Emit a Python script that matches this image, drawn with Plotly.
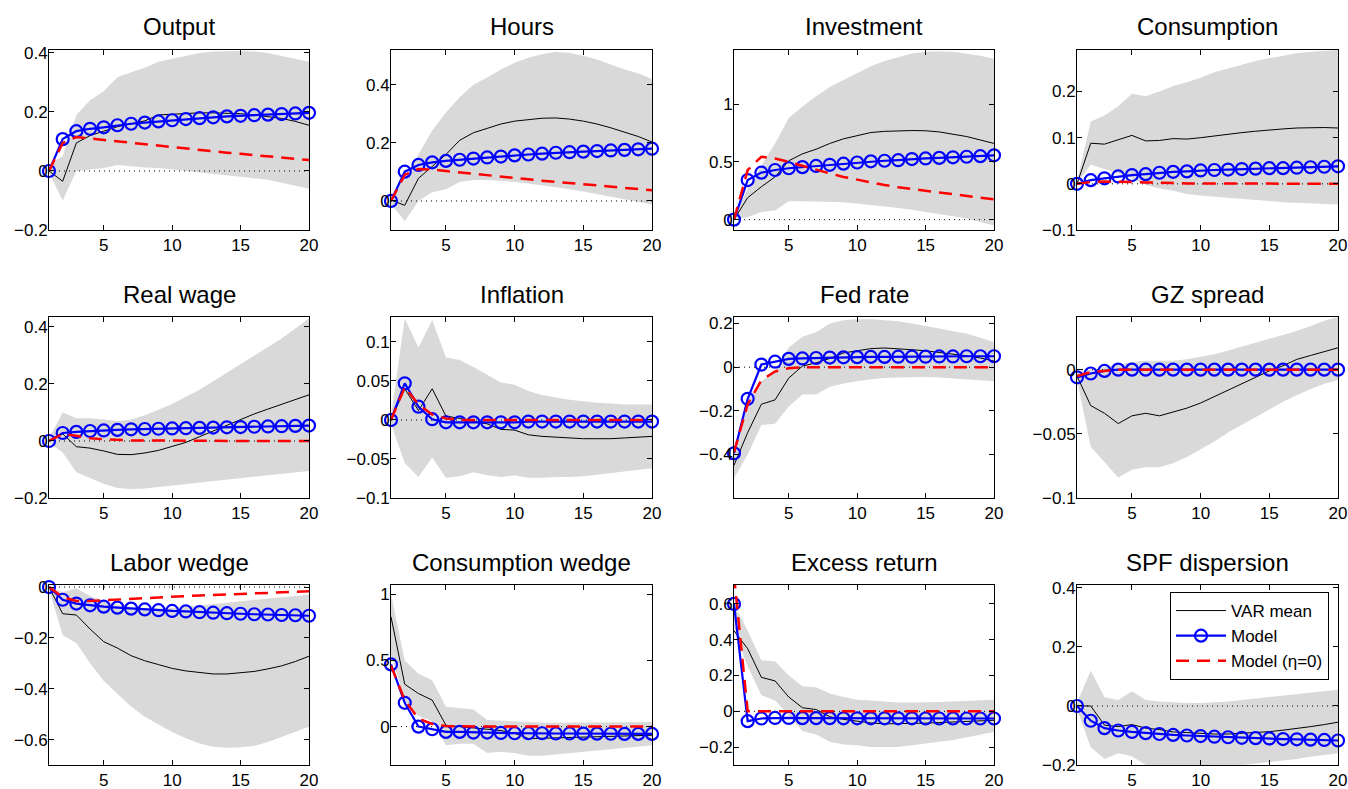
import plotly.graph_objects as go

PERIODS = list(range(1, 21))
TITLES = ["Output", "Hours", "Investment", "Consumption",
          "Real wage", "Inflation", "Fed rate", "GZ spread",
          "Labor wedge", "Consumption wedge", "Excess return", "SPF dispersion"]

# ---------------- data ----------------
OUTPUT_VAR = [0, -0.035, 0.095, 0.12, 0.135, 0.15, 0.16, 0.17, 0.19, 0.193, 0.195, 0.197, 0.197, 0.196, 0.194, 0.19, 0.185, 0.178, 0.168, 0.155]
OUTPUT_HI = [0.02, 0.05, 0.19, 0.24, 0.27, 0.318, 0.335, 0.35, 0.37, 0.38, 0.39, 0.4, 0.405, 0.407, 0.407, 0.405, 0.4, 0.39, 0.38, 0.37]
OUTPUT_LO = [-0.005, -0.1, 0.0, 0.005, 0.01, 0.02, 0.015, 0.012, 0.01, 0.005, 0.0, -0.005, -0.01, -0.015, -0.02, -0.025, -0.03, -0.04, -0.05, -0.06]
OUTPUT_MODEL = [0, 0.108, 0.135, 0.143, 0.148, 0.155, 0.16, 0.164, 0.168, 0.172, 0.176, 0.179, 0.182, 0.185, 0.187, 0.189, 0.191, 0.193, 0.195, 0.197]
OUTPUT_ETA0 = [0, 0.095, 0.115, 0.11, 0.105, 0.1, 0.095, 0.09, 0.085, 0.08, 0.075, 0.07, 0.066, 0.062, 0.058, 0.054, 0.05, 0.046, 0.042, 0.037]

HOURS_VAR = [0.003, -0.015, 0.078, 0.12, 0.16, 0.209, 0.235, 0.25, 0.265, 0.275, 0.28, 0.285, 0.286, 0.282, 0.275, 0.265, 0.252, 0.238, 0.222, 0.203]
HOURS_HI = [0.02, 0.08, 0.16, 0.243, 0.305, 0.357, 0.4, 0.425, 0.453, 0.476, 0.493, 0.505, 0.514, 0.51, 0.5, 0.487, 0.47, 0.453, 0.44, 0.42]
HOURS_LO = [-0.01, -0.07, 0.0, 0.03, 0.04, 0.065, 0.072, 0.072, 0.07, 0.065, 0.06, 0.053, 0.047, 0.04, 0.033, 0.025, 0.017, 0.008, -0.003, -0.012]
HOURS_MODEL = [0, 0.101, 0.124, 0.133, 0.138, 0.142, 0.146, 0.15, 0.153, 0.157, 0.16, 0.163, 0.166, 0.168, 0.17, 0.172, 0.174, 0.176, 0.178, 0.18]
HOURS_ETA0 = [0, 0.09, 0.11, 0.108, 0.103, 0.098, 0.093, 0.088, 0.083, 0.079, 0.074, 0.07, 0.066, 0.062, 0.058, 0.054, 0.05, 0.046, 0.042, 0.037]

INVEST_VAR = [0, 0.19, 0.285, 0.37, 0.51, 0.57, 0.61, 0.66, 0.7, 0.73, 0.755, 0.765, 0.77, 0.772, 0.77, 0.76, 0.74, 0.72, 0.69, 0.66]
INVEST_HI = [0.02, 0.27, 0.47, 0.66, 0.88, 0.98, 1.07, 1.15, 1.21, 1.27, 1.33, 1.375, 1.41, 1.44, 1.455, 1.46, 1.455, 1.44, 1.42, 1.395]
INVEST_LO = [0, 0.02, 0.067, 0.08, 0.16, 0.16, 0.155, 0.155, 0.15, 0.14, 0.13, 0.115, 0.1, 0.085, 0.07, 0.05, 0.03, 0.01, -0.02, -0.05]
INVEST_MODEL = [0, 0.343, 0.407, 0.43, 0.445, 0.455, 0.465, 0.475, 0.485, 0.495, 0.505, 0.51, 0.515, 0.525, 0.53, 0.535, 0.54, 0.545, 0.55, 0.557]
INVEST_ETA0 = [0, 0.43, 0.545, 0.53, 0.5, 0.465, 0.43, 0.4, 0.37, 0.345, 0.32, 0.3, 0.28, 0.265, 0.245, 0.23, 0.215, 0.2, 0.19, 0.175]

CONS_VAR = [0, 0.088, 0.086, 0.095, 0.105, 0.093, 0.094, 0.098, 0.097, 0.1, 0.104, 0.107, 0.111, 0.114, 0.117, 0.119, 0.121, 0.122, 0.122, 0.121]
CONS_HI = [0.005, 0.135, 0.148, 0.168, 0.195, 0.19, 0.2, 0.212, 0.22, 0.23, 0.242, 0.25, 0.258, 0.266, 0.272, 0.278, 0.283, 0.286, 0.288, 0.29]
CONS_LO = [0, 0.042, 0.032, 0.022, 0.012, -0.002, -0.01, -0.015, -0.022, -0.025, -0.028, -0.03, -0.033, -0.035, -0.037, -0.04, -0.042, -0.043, -0.044, -0.045]
CONS_MODEL = [0, 0.008, 0.012, 0.016, 0.019, 0.021, 0.024, 0.026, 0.027, 0.029, 0.03, 0.031, 0.032, 0.033, 0.034, 0.034, 0.035, 0.036, 0.037, 0.038]
CONS_ETA0 = [0, 0.004, 0.005, 0.005, 0.004, 0.003, 0.002, 0.001, 0.001, 0.001, 0.001, 0.001, 0.001, 0.0, 0.0, 0.0, 0.0, 0.0, 0.0, 0.0]

WAGE_VAR = [0, 0.025, -0.02, -0.025, -0.035, -0.047, -0.048, -0.042, -0.033, -0.02, -0.005, 0.015, 0.035, 0.055, 0.075, 0.095, 0.112, 0.128, 0.145, 0.162]
WAGE_HI = [0.01, 0.1, 0.08, 0.08, 0.075, 0.07, 0.075, 0.09, 0.11, 0.13, 0.155, 0.18, 0.21, 0.24, 0.27, 0.3, 0.33, 0.36, 0.395, 0.43]
WAGE_LO = [-0.005, -0.04, -0.11, -0.13, -0.15, -0.165, -0.168, -0.167, -0.162, -0.155, -0.15, -0.145, -0.14, -0.135, -0.13, -0.125, -0.12, -0.115, -0.11, -0.105]
WAGE_MODEL = [0, 0.028, 0.032, 0.035, 0.037, 0.039, 0.041, 0.042, 0.043, 0.044, 0.045, 0.046, 0.047, 0.048, 0.049, 0.05, 0.051, 0.052, 0.053, 0.054]
WAGE_ETA0 = [0, 0.025, 0.018, 0.01, 0.006, 0.003, 0.002, 0.002, 0.001, 0.001, 0.001, 0.001, 0.0, 0.0, 0.0, 0.0, 0.0, 0.0, 0.0, 0.0]

INFL_VAR = [0, 0.04, 0.012, 0.04, 0.005, 0.002, -0.002, -0.005, -0.012, -0.013, -0.019, -0.021, -0.022, -0.023, -0.024, -0.024, -0.024, -0.023, -0.022, -0.021]
INFL_HI = [0.005, 0.13, 0.093, 0.128, 0.08, 0.077, 0.068, 0.058, 0.048, 0.045, 0.037, 0.032, 0.029, 0.026, 0.024, 0.022, 0.021, 0.02, 0.02, 0.02]
INFL_LO = [-0.005, -0.055, -0.073, -0.048, -0.074, -0.072, -0.067, -0.071, -0.073, -0.071, -0.074, -0.074, -0.073, -0.073, -0.072, -0.07, -0.068, -0.066, -0.064, -0.062]
INFL_MODEL = [0, 0.047, 0.017, 0.001, -0.003, -0.003, -0.003, -0.003, -0.003, -0.003, -0.002, -0.002, -0.002, -0.002, -0.002, -0.002, -0.002, -0.002, -0.002, -0.002]
INFL_ETA0 = [0, 0.042, 0.02, 0.007, 0.002, 0.0, 0.0, 0.0, 0.0, 0.0, 0.0, 0.0, 0.0, 0.0, 0.0, 0.0, 0.0, 0.0, 0.0, 0.0]

FED_VAR = [-0.45, -0.3, -0.17, -0.15, -0.05, 0.005, 0.02, 0.04, 0.065, 0.075, 0.085, 0.088, 0.085, 0.08, 0.075, 0.068, 0.06, 0.052, 0.042, 0.028]
FED_HI = [-0.4, -0.15, -0.065, -0.02, 0.09, 0.14, 0.16, 0.2, 0.215, 0.22, 0.22, 0.215, 0.21, 0.2, 0.19, 0.177, 0.165, 0.154, 0.135, 0.115]
FED_LO = [-0.51, -0.4, -0.265, -0.26, -0.18, -0.125, -0.125, -0.09, -0.075, -0.065, -0.055, -0.05, -0.047, -0.045, -0.045, -0.047, -0.05, -0.055, -0.06, -0.065]
FED_MODEL = [-0.395, -0.145, 0.012, 0.025, 0.038, 0.04, 0.042, 0.044, 0.045, 0.046, 0.047, 0.047, 0.048, 0.048, 0.048, 0.049, 0.049, 0.05, 0.05, 0.05]
FED_ETA0 = [-0.39, -0.17, -0.06, -0.02, -0.005, 0.0, 0.0, 0.0, 0.0, 0.0, 0.0, 0.0, 0.0, 0.0, 0.0, 0.0, 0.0, 0.0, 0.0, 0.0]

GZ_VAR = [-0.005, -0.028, -0.034, -0.042, -0.036, -0.034, -0.036, -0.033, -0.03, -0.026, -0.021, -0.016, -0.011, -0.006, -0.001, 0.003, 0.008, 0.011, 0.014, 0.017]
GZ_HI = [-0.002, 0.0, 0.002, 0.004, 0.006, 0.007, 0.007, 0.007, 0.008, 0.01, 0.012, 0.015, 0.018, 0.021, 0.024, 0.027, 0.03, 0.034, 0.038, 0.041]
GZ_LO = [-0.008, -0.06, -0.072, -0.084, -0.078, -0.076, -0.076, -0.073, -0.068, -0.062, -0.056, -0.049, -0.043, -0.037, -0.031, -0.025, -0.02, -0.015, -0.011, -0.008]
GZ_MODEL = [-0.006, -0.003, -0.001, 0.0, 0.0, 0.0, 0.0, 0.0, 0.0, 0.0, 0.0, 0.0, 0.0, 0.0, 0.0, 0.0, 0.0, 0.0, 0.0, 0.0]
GZ_ETA0 = [-0.005, -0.002, -0.001, 0.0, 0.0, 0.0, 0.0, 0.0, 0.0, 0.0, 0.0, 0.0, 0.0, 0.0, 0.0, 0.0, 0.0, 0.0, 0.0, 0.0]

LABOR_VAR = [0, -0.105, -0.11, -0.165, -0.215, -0.24, -0.27, -0.29, -0.305, -0.32, -0.33, -0.337, -0.342, -0.342, -0.338, -0.332, -0.322, -0.31, -0.293, -0.272]
LABOR_HI = [0, -0.02, -0.005, -0.035, -0.055, -0.07, -0.078, -0.082, -0.083, -0.082, -0.078, -0.072, -0.066, -0.06, -0.055, -0.05, -0.045, -0.04, -0.035, -0.03]
LABOR_LO = [-0.01, -0.19, -0.22, -0.3, -0.37, -0.42, -0.47, -0.51, -0.54, -0.57, -0.595, -0.615, -0.628, -0.632, -0.63, -0.625, -0.61, -0.59, -0.57, -0.55]
LABOR_MODEL = [0, -0.05, -0.065, -0.072, -0.077, -0.081, -0.085, -0.088, -0.091, -0.094, -0.096, -0.099, -0.101, -0.103, -0.105, -0.107, -0.108, -0.11, -0.111, -0.113]
LABOR_ETA0 = [0, -0.04, -0.055, -0.055, -0.052, -0.049, -0.046, -0.043, -0.04, -0.037, -0.035, -0.033, -0.031, -0.029, -0.027, -0.025, -0.023, -0.021, -0.019, -0.017]

CWEDGE_VAR = [0.83, 0.32, 0.25, 0.2, 0.01, 0.0, -0.005, -0.02, -0.03, -0.05, -0.09, -0.088, -0.085, -0.085, -0.08, -0.075, -0.075, -0.07, -0.07, -0.065]
CWEDGE_HI = [1.0, 0.5, 0.4, 0.35, 0.15, 0.14, 0.13, 0.05, 0.045, 0.04, 0.03, 0.03, 0.03, 0.03, 0.03, 0.03, 0.035, 0.035, 0.035, 0.035]
CWEDGE_LO = [0.55, 0.2, 0.08, 0.04, -0.14, -0.13, -0.13, -0.2, -0.19, -0.2, -0.22, -0.22, -0.21, -0.2, -0.19, -0.18, -0.17, -0.16, -0.15, -0.14]
CWEDGE_MODEL = [0.47, 0.18, 0.0, -0.02, -0.04, -0.04, -0.045, -0.045, -0.048, -0.05, -0.05, -0.05, -0.052, -0.052, -0.053, -0.053, -0.054, -0.055, -0.055, -0.055]
CWEDGE_ETA0 = [0.46, 0.2, 0.06, 0.02, 0.005, 0.0, 0.0, 0.0, 0.0, 0.0, 0.0, 0.0, 0.0, 0.0, 0.0, 0.0, 0.0, 0.0, 0.0, 0.0]

EXRET_VAR = [0.45, 0.35, 0.19, 0.17, 0.08, 0.02, 0.01, -0.03, -0.045, -0.055, -0.065, -0.07, -0.07, -0.068, -0.066, -0.063, -0.06, -0.057, -0.054, -0.05]
EXRET_HI = [0.6, 0.45, 0.285, 0.28, 0.2, 0.14, 0.135, 0.1, 0.08, 0.065, 0.06, 0.055, 0.05, 0.05, 0.05, 0.052, 0.055, 0.058, 0.062, 0.065]
EXRET_LO = [0.45, 0.25, 0.09, 0.06, -0.02, -0.11, -0.13, -0.17, -0.185, -0.19, -0.2, -0.2, -0.2, -0.19, -0.18, -0.17, -0.16, -0.145, -0.13, -0.115]
EXRET_MODEL = [0.6, -0.055, -0.04, -0.037, -0.037, -0.038, -0.038, -0.038, -0.039, -0.039, -0.039, -0.039, -0.039, -0.039, -0.04, -0.04, -0.04, -0.04, -0.04, -0.04]
EXRET_ETA0 = [0.76, 0.0, 0.0, 0.0, 0.0, 0.0, 0.0, 0.0, 0.0, 0.0, 0.0, 0.0, 0.0, 0.0, 0.0, 0.0, 0.0, 0.0, 0.0, 0.0]

SPF_VAR = [0, 0.0, -0.065, -0.07, -0.063, -0.075, -0.08, -0.088, -0.09, -0.093, -0.095, -0.095, -0.093, -0.09, -0.087, -0.082, -0.077, -0.07, -0.063, -0.055]
SPF_HI = [0.01, 0.12, 0.03, 0.02, 0.05, 0.02, 0.015, 0.012, 0.01, 0.01, 0.012, 0.015, 0.02, 0.025, 0.03, 0.035, 0.04, 0.045, 0.05, 0.055]
SPF_LO = [-0.01, -0.14, -0.18, -0.16, -0.17, -0.2, -0.205, -0.21, -0.21, -0.21, -0.21, -0.205, -0.2, -0.195, -0.19, -0.185, -0.18, -0.172, -0.165, -0.16]
SPF_MODEL = [0, -0.05, -0.075, -0.083, -0.088, -0.092, -0.095, -0.098, -0.1, -0.102, -0.104, -0.106, -0.108, -0.109, -0.11, -0.112, -0.113, -0.114, -0.115, -0.117]
SPF_ETA0 = None

PANELS = [
    (OUTPUT_VAR, OUTPUT_LO, OUTPUT_HI, OUTPUT_MODEL, OUTPUT_ETA0),
    (HOURS_VAR, HOURS_LO, HOURS_HI, HOURS_MODEL, HOURS_ETA0),
    (INVEST_VAR, INVEST_LO, INVEST_HI, INVEST_MODEL, INVEST_ETA0),
    (CONS_VAR, CONS_LO, CONS_HI, CONS_MODEL, CONS_ETA0),
    (WAGE_VAR, WAGE_LO, WAGE_HI, WAGE_MODEL, WAGE_ETA0),
    (INFL_VAR, INFL_LO, INFL_HI, INFL_MODEL, INFL_ETA0),
    (FED_VAR, FED_LO, FED_HI, FED_MODEL, FED_ETA0),
    (GZ_VAR, GZ_LO, GZ_HI, GZ_MODEL, GZ_ETA0),
    (LABOR_VAR, LABOR_LO, LABOR_HI, LABOR_MODEL, LABOR_ETA0),
    (CWEDGE_VAR, CWEDGE_LO, CWEDGE_HI, CWEDGE_MODEL, CWEDGE_ETA0),
    (EXRET_VAR, EXRET_LO, EXRET_HI, EXRET_MODEL, EXRET_ETA0),
    (SPF_VAR, SPF_LO, SPF_HI, SPF_MODEL, SPF_ETA0),
]

Y_RANGES = [[-0.2, 0.41], [-0.1, 0.52], [-0.09, 1.47], [-0.1, 0.29],
            [-0.2, 0.435], [-0.1, 0.132], [-0.6, 0.23], [-0.1, 0.041],
            [-0.7, 0.008], [-0.29, 1.07], [-0.3, 0.706], [-0.2, 0.41]]
Y_TICKS = [[-0.2, 0, 0.2, 0.4], [0, 0.2, 0.4], [0, 0.5, 1], [-0.1, 0, 0.1, 0.2],
           [-0.2, 0, 0.2, 0.4], [-0.1, -0.05, 0, 0.05, 0.1], [-0.4, -0.2, 0, 0.2], [-0.1, -0.05, 0],
           [-0.6, -0.4, -0.2, 0], [0, 0.5, 1], [-0.2, 0, 0.2, 0.4, 0.6], [-0.2, 0, 0.2, 0.4]]
X_TICKS = [5, 10, 15, 20]
LEGEND_NAMES = ["VAR mean", "Model", "Model (\u03b7=0)"]

# ---------------- layout (pixels) ----------------
W, H = 1348, 789
COLS_PX = [(49, 309), (391, 652), (734, 994), (1077, 1338)]
ROWS_PX = [(50, 230), (317, 498), (585, 765)]
FONT = "Liberation Sans, Arial, Helvetica, sans-serif"
BAND = "rgb(217,217,217)"
TICK_SIZE = 17
TITLE_SIZE = 24


def fmt(v):
    s = ("%g" % v)
    return s.replace("-", "\u2212")


fig = go.Figure()
layout = dict(
    width=W, height=H, autosize=False, margin=dict(l=0, r=0, t=0, b=0, pad=0),
    paper_bgcolor="white", plot_bgcolor="white",
    font=dict(family=FONT, size=TICK_SIZE, color="black"),
    showlegend=True,
    legend=dict(x=1329 / W, y=1 - 592 / H, xanchor="right", yanchor="top",
                bgcolor="white", bordercolor="black", borderwidth=1,
                font=dict(family=FONT, size=TICK_SIZE, color="black"),
                tracegroupgap=0, itemwidth=50),
)
annotations = []

for i, (var, lo, hi, model, eta0) in enumerate(PANELS):
    r, c = divmod(i, 4)
    n = i + 1
    xs = "" if n == 1 else str(n)
    xref, yref = "x" + xs, "y" + xs
    x0, x1 = COLS_PX[c]
    y0, y1 = ROWS_PX[r]
    first = (i == 0)

    fig.add_trace(go.Scatter(x=PERIODS + PERIODS[::-1], y=hi + lo[::-1], fill="toself",
                             fillcolor=BAND, line=dict(width=0, color=BAND), mode="lines",
                             hoverinfo="skip", showlegend=False, xaxis=xref, yaxis=yref))
    fig.add_trace(go.Scatter(x=PERIODS, y=[0] * len(PERIODS), mode="lines",
                             line=dict(color="black", width=1, dash="1px,4px"),
                             showlegend=False, xaxis=xref, yaxis=yref))
    fig.add_trace(go.Scatter(x=PERIODS, y=var, mode="lines", name=LEGEND_NAMES[0],
                             line=dict(color="black", width=1),
                             showlegend=first, legendgroup="var", xaxis=xref, yaxis=yref))
    fig.add_trace(go.Scatter(x=PERIODS, y=model, mode="lines+markers", name=LEGEND_NAMES[1],
                             line=dict(color="blue", width=2.2),
                             marker=dict(symbol="circle-open", size=12, color="blue",
                                         line=dict(width=2.2, color="blue")),
                             cliponaxis=False,
                             showlegend=first, legendgroup="model", xaxis=xref, yaxis=yref))
    if eta0 is not None:
        fig.add_trace(go.Scatter(x=PERIODS, y=eta0, mode="lines", name=LEGEND_NAMES[2],
                                 line=dict(color="red", width=2.5, dash="13px,8px"),
                                 showlegend=first, legendgroup="eta0", xaxis=xref, yaxis=yref))

    axis_common = dict(showline=True, linecolor="black", linewidth=1, mirror="ticks",
                       ticks="inside", ticklen=5, tickcolor="black", tickwidth=1,
                       showgrid=False, zeroline=False, automargin=False,
                       tickfont=dict(family=FONT, size=TICK_SIZE, color="black"))
    layout["xaxis" + xs] = dict(axis_common, domain=[x0 / W, x1 / W], anchor=yref,
                                range=[PERIODS[0], PERIODS[-1]], tickmode="array",
                                tickvals=X_TICKS, ticktext=[str(t) for t in X_TICKS])
    layout["yaxis" + xs] = dict(axis_common, domain=[1 - y1 / H, 1 - y0 / H], anchor=xref,
                                range=Y_RANGES[i], tickmode="array", ticklabelstandoff=-3,
                                tickvals=Y_TICKS[i], ticktext=[fmt(t) for t in Y_TICKS[i]])
    annotations.append(dict(text=TITLES[i], xref="paper", yref="paper",
                            x=(x0 + x1) / 2 / W, y=1 - y0 / H, xanchor="center",
                            yanchor="middle", yshift=23, showarrow=False,
                            font=dict(family=FONT, size=TITLE_SIZE, color="black")))

layout["annotations"] = annotations
fig.update_layout(**layout)
fig.write_html("out.html", config={"displayModeBar": False},
               post_script="document.documentElement.style.margin='0';"
                           "document.body.style.margin='0';"
                           "document.body.style.overflow='hidden';")
